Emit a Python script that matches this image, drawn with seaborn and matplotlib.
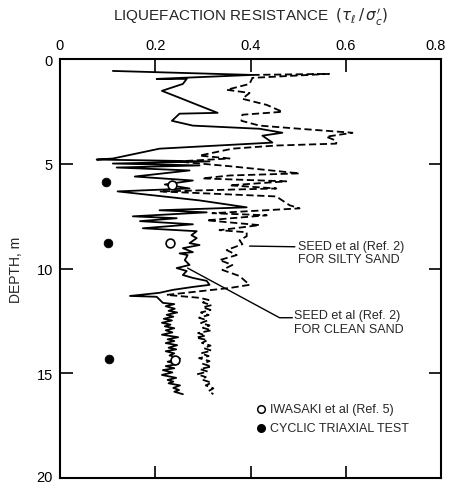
import numpy as np
import pandas as pd
import seaborn as sns
import matplotlib.pyplot as plt
from matplotlib.transforms import ScaledTranslation

# ---- data ----
clean_x = [0.111, 0.404, 0.203, 0.266, 0.258, 0.214, 0.251, 0.293, 0.331, 0.251,
           0.235, 0.279, 0.419, 0.467, 0.425, 0.446, 0.209, 0.111, 0.077, 0.314,
           0.111, 0.293, 0.119, 0.272, 0.157, 0.279, 0.220, 0.272, 0.121, 0.293,
           0.392, 0.209, 0.308, 0.153, 0.245, 0.168, 0.279, 0.174, 0.287, 0.276,
           0.287, 0.272, 0.293, 0.258, 0.279, 0.251, 0.268, 0.262, 0.272, 0.245,
           0.266, 0.258, 0.279, 0.308, 0.314, 0.279, 0.237, 0.209, 0.147, 0.203,
           0.216, 0.240, 0.222, 0.241, 0.228, 0.246, 0.224, 0.238, 0.218, 0.235,
           0.214, 0.232, 0.220, 0.240, 0.222, 0.236, 0.214, 0.248, 0.226, 0.240,
           0.222, 0.246, 0.228, 0.244, 0.222, 0.240, 0.230, 0.252, 0.226, 0.248,
           0.222, 0.240, 0.216, 0.236, 0.214, 0.244, 0.226, 0.238, 0.228, 0.252,
           0.238, 0.250, 0.240, 0.258]
clean_d = [0.57, 0.76, 0.95, 0.95, 1.19, 1.52, 1.85, 2.23, 2.57, 2.61,
           2.95, 3.18, 3.33, 3.52, 3.66, 3.99, 4.28, 4.75, 4.80, 4.89,
           4.99, 5.08, 5.18, 5.32, 5.61, 5.80, 5.99, 6.18, 6.32, 6.75,
           7.08, 7.22, 7.32, 7.51, 7.60, 7.74, 7.89, 8.08, 8.22, 8.41,
           8.55, 8.79, 8.88, 9.03, 9.22, 9.28, 9.36, 9.60, 9.83, 9.98,
           10.12, 10.31, 10.45, 10.59, 10.78, 10.88, 11.02, 11.16, 11.31, 11.35,
           11.64, 11.70, 11.80, 11.92, 12.02, 12.10, 12.21, 12.30, 12.40, 12.48,
           12.59, 12.68, 12.76, 12.85, 12.95, 13.05, 13.16, 13.28, 13.38, 13.46,
           13.56, 13.66, 13.78, 13.86, 13.95, 14.05, 14.15, 14.30, 14.45, 14.56,
           14.66, 14.76, 14.85, 14.96, 15.08, 15.22, 15.32, 15.40, 15.48, 15.58,
           15.70, 15.80, 15.88, 16.00]

silty_x = [0.404, 0.565, 0.404, 0.398, 0.350, 0.398, 0.383, 0.434, 0.467, 0.383,
           0.381, 0.419, 0.503, 0.614, 0.559, 0.580, 0.580, 0.454, 0.362, 0.293,
           0.356, 0.245, 0.362, 0.503, 0.356, 0.299, 0.475, 0.356, 0.454, 0.209,
           0.454, 0.482, 0.503, 0.320, 0.434, 0.308, 0.419, 0.335, 0.392, 0.392,
           0.377, 0.383, 0.350, 0.371, 0.335, 0.362, 0.341, 0.377, 0.398, 0.356,
           0.320, 0.224, 0.293, 0.312, 0.300, 0.318, 0.300, 0.316, 0.296, 0.312,
           0.292, 0.310, 0.296, 0.314, 0.300, 0.318, 0.290, 0.306, 0.286, 0.310,
           0.298, 0.316, 0.302, 0.318, 0.296, 0.312, 0.292, 0.314, 0.300, 0.318,
           0.294, 0.310, 0.288, 0.306, 0.298, 0.318, 0.306, 0.322, 0.312, 0.322]
silty_d = [0.76, 0.71, 0.90, 1.19, 1.47, 1.62, 1.90, 2.19, 2.52, 2.66,
           2.95, 3.18, 3.33, 3.52, 3.71, 3.90, 4.04, 4.13, 4.28, 4.61,
           4.75, 4.89, 5.13, 5.46, 5.56, 5.70, 5.84, 6.03, 6.18, 6.32,
           6.56, 6.98, 7.13, 7.36, 7.46, 7.70, 7.93, 8.17, 8.27, 8.46,
           8.65, 8.84, 9.12, 9.36, 9.60, 9.83, 10.07, 10.36, 10.78, 10.93,
           11.02, 11.26, 11.40, 11.50, 11.62, 11.75, 11.85, 11.98, 12.10, 12.22,
           12.35, 12.48, 12.60, 12.72, 12.83, 12.95, 13.08, 13.20, 13.30, 13.42,
           13.55, 13.68, 13.80, 13.92, 14.05, 14.18, 14.28, 14.42, 14.55, 14.68,
           14.80, 14.92, 15.05, 15.18, 15.30, 15.45, 15.58, 15.72, 15.85, 16.00]

iwasaki_x = [0.235, 0.232, 0.241]
iwasaki_d = [6.03, 8.79, 14.35]
triax_x = [0.096, 0.100, 0.103]
triax_d = [5.89, 8.79, 14.30]

x_ticks = [0, 0.2, 0.4, 0.6, 0.8]
x_ticklabels = ['0', '0.2', '0.4', '0.6', '0.8']
y_ticks = [0, 5, 10, 15, 20]
y_ticklabels = ['0', '5', '10', '15', '20']

# ---- plot ----
sns.set_theme(style='white')
plt.rcParams['font.family'] = ['Liberation Sans', 'DejaVu Sans']
plt.rcParams['mathtext.fontset'] = 'dejavusans'

fig, ax = plt.subplots(figsize=(4.5, 4.85), dpi=100)
fig.subplots_adjust(left=60/450, right=441/450, top=1-60/485, bottom=6/485)

df_clean = pd.DataFrame({'ratio': clean_x, 'depth': clean_d})
df_silty = pd.DataFrame({'ratio': silty_x, 'depth': silty_d})

sns.lineplot(data=df_clean, x='ratio', y='depth', sort=False, estimator=None,
             color='black', lw=1.3, ax=ax)
sns.lineplot(data=df_silty, x='ratio', y='depth', sort=False, estimator=None,
             color='black', lw=1.3, linestyle=(0, (4, 2)), ax=ax)

sns.scatterplot(x=iwasaki_x, y=iwasaki_d, marker='o', s=40, facecolor='white',
                edgecolor='black', linewidth=1.2, ax=ax, zorder=5)
sns.scatterplot(x=triax_x, y=triax_d, marker='o', s=40, color='black',
                edgecolor='black', ax=ax, zorder=5)

ax.set_xlim(0, 0.8)
ax.set_ylim(20, 0)
ax.set_xticks(x_ticks)
ax.set_xticklabels(x_ticklabels)
ax.set_yticks(y_ticks)
ax.set_yticklabels(y_ticklabels)
ax.xaxis.tick_top()
ax.xaxis.set_label_position('top')
ax.tick_params(direction='in', length=9, width=1.2, top=True, bottom=True,
               left=True, right=True, labeltop=True, labelbottom=False,
               labelsize=10.5, colors='black', pad=5)
for s in ax.spines.values():
    s.set_color('black')
    s.set_linewidth(1.5)

# keep edge labels inside the canvas
xl = ax.get_xticklabels()
xl[-1].set_transform(xl[-1].get_transform() + ScaledTranslation(-5/100, 0, fig.dpi_scale_trans))
yl = ax.get_yticklabels()
yl[-1].set_transform(yl[-1].get_transform() + ScaledTranslation(0, 3/100, fig.dpi_scale_trans))

ax.set_xlabel(r'LIQUEFACTION RESISTANCE  $(\tau_\ell\,/\,\sigma_c^{\prime})$',
              fontsize=11, labelpad=13)
ax.set_ylabel('DEPTH, m', fontsize=10, labelpad=10)

# annotations
ax.annotate('SEED et al (Ref. 2)\nFOR SILTY SAND', xy=(0.398, 8.93),
            xytext=(0.50, 8.62), fontsize=9, va='top', ha='left',
            linespacing=1.2,
            arrowprops=dict(arrowstyle='-', color='black', lw=1.0,
                            shrinkA=0, shrinkB=0, relpos=(0, 0.72)))
ax.plot([0.268, 0.461, 0.488], [9.98, 12.35, 12.35], color='black', lw=1.0)
ax.text(0.492, 11.95, 'SEED et al (Ref. 2)\nFOR CLEAN SAND', fontsize=9,
        va='top', ha='left', linespacing=1.2)

# legend
ax.scatter([0.423], [16.72], s=30, facecolor='white', edgecolor='black', lw=1.1)
ax.scatter([0.423], [17.62], s=30, color='black')
ax.text(0.440, 16.72, 'IWASAKI et al (Ref. 5)', fontsize=9, va='center')
ax.text(0.440, 17.62, 'CYCLIC TRIAXIAL TEST', fontsize=9, va='center')

fig.savefig('out.png', dpi=100)
